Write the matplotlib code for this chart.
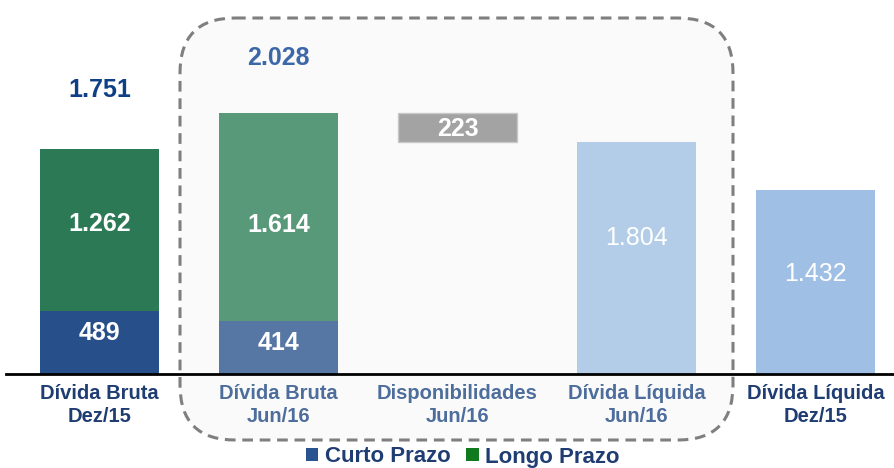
import matplotlib
matplotlib.use("Agg")
import matplotlib.pyplot as plt
from matplotlib.patches import FancyBboxPatch, Patch
import numpy as np

plt.rcParams['font.family'] = ['Liberation Sans', 'DejaVu Sans']

categories = ["Dívida Bruta\nDez/15", "Dívida Bruta\nJun/16", "Disponibilidades\nJun/16",
              "Dívida Líquida\nJun/16", "Dívida Líquida\nDez/15"]
curto_prazo = [489, 414]
longo_prazo = [1262, 1614]
totais_brutos = [1751, 2028]
disponibilidades = 223
divida_liquida = [1804, 1432]

W, H = 895, 468
fig = plt.figure(figsize=(W / 100, H / 100), dpi=100)

# overlay for rounded dashed box (pixel coordinates)
ov = fig.add_axes([0, 0, 1, 1], zorder=0)
ov.set_xlim(0, W)
ov.set_ylim(H, 0)
ov.axis('off')
box = FancyBboxPatch((180, 18), 553, 422, boxstyle="round,pad=0,rounding_size=55",
                     facecolor='#fafafa', edgecolor='#7f7f7f', linewidth=2.2,
                     linestyle=(0, (3.5, 2.2)))
ov.add_patch(box)

base_px = 374
left_px = 6
ax = fig.add_axes([left_px / W, (H - base_px) / H, 1 - left_px / W, base_px / H], zorder=1)
ax.patch.set_visible(False)
units_per_px = 1751 / 225.0
ax.set_ylim(0, base_px * units_per_px)
ax.set_xlim(-0.522, 4.444)
for s in ax.spines.values():
    s.set_visible(False)
ax.spines['bottom'].set_visible(True)
ax.spines['bottom'].set_linewidth(2)
ax.spines['bottom'].set_color('black')
ax.set_yticks([])
ax.set_xticks([])

x = np.arange(len(categories))
bw = 0.665

cp_colors = ['#27508a', '#5676a3']
lp_colors = ['#2c7a55', '#58997a']
for i in range(2):
    ax.bar(x[i], curto_prazo[i], bw, color=cp_colors[i], edgecolor='none')
    ax.bar(x[i], longo_prazo[i], bw, bottom=curto_prazo[i], color=lp_colors[i], edgecolor='none')

ax.bar(x[2], disponibilidades, bw, bottom=totais_brutos[1] - disponibilidades,
       color='#a3a3a3', edgecolor='#c8c8c8', linewidth=1)
ax.bar(x[3], divida_liquida[0], bw, color='#b3cde8', edgecolor='none')
ax.bar(x[4], divida_liquida[1], bw, color='#9fbfe4', edgecolor='none')

fs_val = 18
def lab(xi, y, txt, dy_px=0, color='white', weight='bold'):
    ax.annotate(txt, (xi, y), xytext=(0, dy_px * 0.72), textcoords='offset points',
                ha='center', va='center', fontsize=fs_val, color=color, fontweight=weight)

def fmt(v):
    return f"{v:,}".replace(",", ".")

# totals
lab(x[0], totais_brutos[0], fmt(totais_brutos[0]), 59, color='#0f3f85')
lab(x[1], totais_brutos[1], fmt(totais_brutos[1]), 55, color='#3d68a8')
# segments
lab(x[0], curto_prazo[0] / 2, fmt(curto_prazo[0]), 10)
lab(x[0], curto_prazo[0] + longo_prazo[0] / 2, fmt(longo_prazo[0]), 6)
lab(x[1], curto_prazo[1] / 2, fmt(curto_prazo[1]), 4)
lab(x[1], curto_prazo[1] + longo_prazo[1] / 2, fmt(longo_prazo[1]), -8)
lab(x[2], totais_brutos[1] - disponibilidades / 2, fmt(disponibilidades), -1)
lab(x[3], divida_liquida[0] / 2, fmt(divida_liquida[0]), 20, weight='normal')
lab(x[4], divida_liquida[1] / 2, fmt(divida_liquida[1]), 8, weight='normal')

# category labels
cat_colors = ['#1f3d73', '#4d6d9c', '#4d6d9c', '#4d6d9c', '#1f3d73']
for i, c in enumerate(categories):
    ax.annotate(c, (x[i], 0), xytext=(0, -7), textcoords='offset points',
                ha='center', va='top', fontsize=14.5, fontweight='bold',
                color=cat_colors[i], linespacing=1.3, annotation_clip=False)

handles = [Patch(facecolor='#2a5490', label='Curto Prazo'),
           Patch(facecolor='#127a1e', label='Longo Prazo')]
leg = fig.legend(handles=handles, loc='center', bbox_to_anchor=(463 / W, 1 - 457 / H),
                 ncol=2, frameon=False, fontsize=16, handlelength=0.55, handleheight=0.55,
                 handletextpad=0.3, columnspacing=0.7, borderpad=0)
for t in leg.get_texts():
    t.set_color('#1f3d73')
    t.set_fontweight('bold')

fig.savefig('out.png', dpi=100)
